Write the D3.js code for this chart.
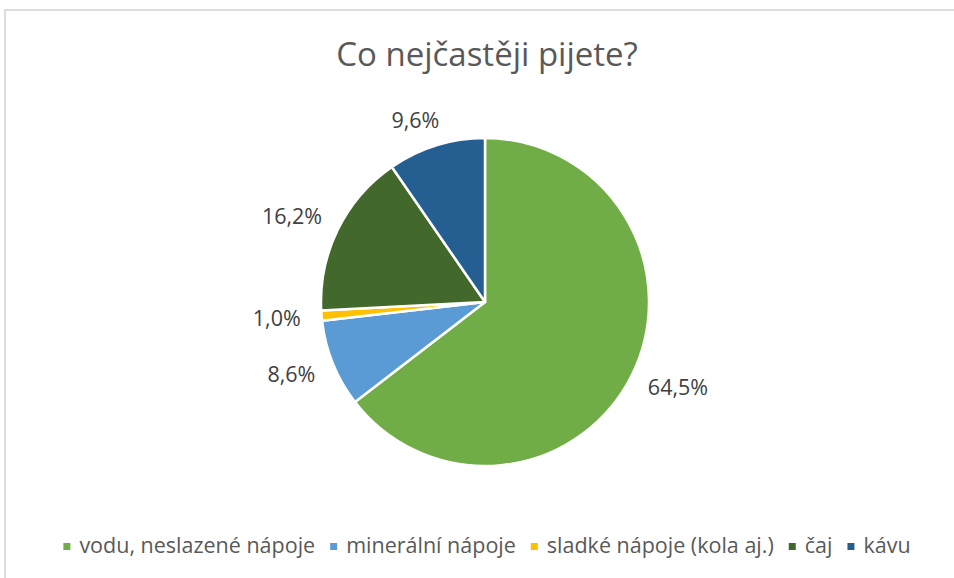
<!DOCTYPE html>
<html>
<head>
<meta charset="utf-8">
<script src="https://cdn.jsdelivr.net/npm/d3@7"></script>
<style>
  html, body { margin: 0; padding: 0; background: #fff; }
  svg { display: block; }
</style>
</head>
<body>
<svg id="chart" width="954" height="578"></svg>
<script>
// Survey answers: "What do you drink most often?"
const title = "Co nejčastěji pijete?";
const categories = ["vodu, neslazené nápoje", "minerální nápoje", "sladké nápoje (kola aj.)", "čaj", "kávu"];
const shares = [64.5, 8.6, 1.0, 16.2, 9.6];
const colors = ["#70AD47", "#5B9BD5", "#FFC000", "#43682B", "#255E91"];

const W = 954, H = 578;
const FONT = "'Open Sans', 'Noto Sans', sans-serif";

const svg = d3.select("#chart");

// chart frame (extends past the right and bottom edges of the window)
const frame = { x: 5, y: 10, w: 964, h: 600 };
svg.append("rect")
  .attr("x", frame.x).attr("y", frame.y)
  .attr("width", frame.w).attr("height", frame.h)
  .attr("fill", "#fff")
  .attr("stroke", "#d9d9d9")
  .attr("stroke-width", 1.75);

const midX = frame.x + frame.w / 2;

// title
svg.append("text")
  .attr("x", midX).attr("y", 66)
  .attr("text-anchor", "middle")
  .attr("font-family", FONT)
  .attr("font-size", 33)
  .attr("fill", "#595959")
  .text(title);

// pie
const cx = 485, cy = 302, radius = 164;
const pie = d3.pie().sort(null).value(d => d);
const arcs = pie(shares);
const arc = d3.arc().innerRadius(0).outerRadius(radius);

const g = svg.append("g").attr("transform", `translate(${cx},${cy})`);
g.selectAll("path.slice")
  .data(arcs)
  .join("path")
  .attr("class", "slice")
  .attr("d", arc)
  .attr("fill", (d, i) => colors[i])
  .attr("stroke", "#fff")
  .attr("stroke-width", 2.5)
  .attr("stroke-linejoin", "round");

// data labels, placed just outside the pie (best fit)
const locale = d3.formatLocale({ decimal: ",", thousands: "\u00a0", grouping: [3], currency: ["", " Kč"] });
const fmt = locale.format(".1f");
const labelGap = 21;     // clearance between pie edge and label box
const capH = 15;         // approximate cap height of the label font
const plotTop = 112;     // labels stay below this line

const labels = g.selectAll("text.label")
  .data(arcs)
  .join("text")
  .attr("class", "label")
  .attr("text-anchor", "middle")
  .attr("font-family", FONT)
  .attr("font-size", 21.5)
  .attr("fill", "#404040")
  .text(d => fmt(d.value) + "%");

labels.each(function (d) {
  const w = this.getComputedTextLength();
  let a = (d.startAngle + d.endAngle) / 2;
  const R = radius + labelGap;
  let ux = Math.sin(a), uy = -Math.cos(a);
  let x = R * ux + (w / 2) * ux;
  let y = R * uy + (capH / 2) * uy;
  // keep the label inside the plot area: slide it along the ring if needed
  const minY = (plotTop + capH / 2 + 1) - cy;
  if (y < minY) {
    const c = -minY / (R + capH / 2);
    a = a > Math.PI ? 2 * Math.PI - Math.acos(c) : Math.acos(c);
    ux = Math.sin(a); uy = -Math.cos(a);
    x = R * ux + (w / 2) * ux;
    y = R * uy + (capH / 2) * uy;
  }
  d3.select(this).attr("x", x).attr("y", y + capH / 2);
});

// legend
const legendY = 553;
const legend = svg.append("g");
const items = legend.selectAll("g.item")
  .data(categories)
  .join("g")
  .attr("class", "item");

items.append("rect")
  .attr("width", 7).attr("height", 7)
  .attr("y", legendY - 10)
  .attr("fill", (d, i) => colors[i]);

items.append("text")
  .attr("x", 16)
  .attr("y", legendY)
  .attr("font-family", FONT)
  .attr("font-size", 21.5)
  .attr("fill", "#595959")
  .text(d => d);

let offset = 0;
const itemGap = 15;
items.each(function () {
  const tw = d3.select(this).select("text").node().getComputedTextLength();
  d3.select(this).attr("transform", `translate(${offset},0)`);
  offset += 16 + tw + itemGap;
});
const total = offset - itemGap;
legend.attr("transform", `translate(${midX - total / 2},0)`);
</script>
</body>
</html>
